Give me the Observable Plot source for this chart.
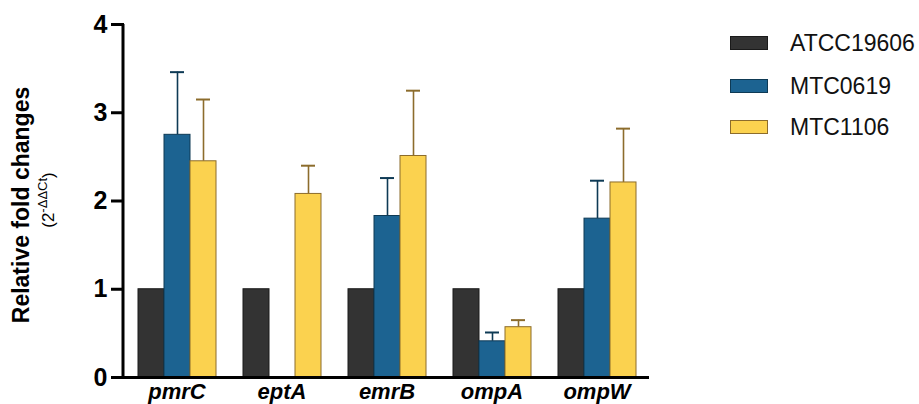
<!DOCTYPE html>
<html><head><meta charset="utf-8">
<script src="https://cdn.jsdelivr.net/npm/d3@7"></script>
<script src="https://cdn.jsdelivr.net/npm/@observablehq/plot@0.6"></script>
<style>
body{margin:0;background:#fff;font-family:"Liberation Sans",Arial,sans-serif;}
#wrap{position:relative;width:919px;height:404px;overflow:hidden}
.leg{position:absolute;left:730px;display:flex;align-items:center;font-size:23px;color:#111}
.leg span.box{display:inline-block;width:38px;height:14px;margin-right:22px;box-sizing:border-box;border:1px solid}
</style></head><body><div id="wrap"></div>
<script>
const genes = ["pmrC","eptA","emrB","ompA","ompW"];
const strains = ["ATCC19606","MTC0619","MTC1106"];
const atcc19606 = [1, 1, 1, 1, 1];
const mtc0619 = [2.75, null, 1.83, 0.41, 1.80];
const mtc0619Upper = [3.46, null, 2.26, 0.51, 2.23];
const mtc1106 = [2.45, 2.08, 2.51, 0.57, 2.21];
const mtc1106Upper = [3.15, 2.40, 3.25, 0.65, 2.82];
const yTicks = [0, 1, 2, 3, 4];

const fills = ["#333333", "#1c6391", "#fbd24f"];
const strokes = ["#1a1a1a", "#0e3a55", "#8c6c2c"];

const series = [
  {strain: strains[0], values: atcc19606, upper: null},
  {strain: strains[1], values: mtc0619, upper: mtc0619Upper},
  {strain: strains[2], values: mtc1106, upper: mtc1106Upper}
];

const marginLeft = 123;
const marks = [];
series.forEach((s, i) => {
  const rows = genes.map((g, j) => ({gene: g, strain: s.strain, value: s.values[j], hi: s.upper ? s.upper[j] : null}))
    .filter(d => d.value != null);
  const errs = rows.filter(d => d.hi != null);
  marks.push(Plot.ruleX(errs, {fx: "gene", x: "strain", y1: "value", y2: "hi", stroke: strokes[i], strokeWidth: 1.6}));
  marks.push(Plot.tickY(errs, {fx: "gene", x: "strain", y: "hi", stroke: strokes[i], strokeWidth: 2, insetLeft: 6, insetRight: 6}));
  marks.push(Plot.barY(rows, {fx: "gene", x: "strain", y: "value", fill: fills[i], stroke: strokes[i], strokeWidth: 1}));
});

const plot = Plot.plot({
  width: 919, height: 404,
  marginLeft, marginRight: 269, marginTop: 24, marginBottom: 27,
  style: {fontFamily: "'Liberation Sans', Arial, sans-serif", color: "#000", background: "transparent"},
  fx: {domain: genes, padding: 0, label: null},
  x: {domain: strains, paddingInner: 0, paddingOuter: 0.5, axis: null},
  y: {domain: [0, 4], label: null},
  marks: [
    ...marks,
    Plot.axisY({ticks: yTicks, tickSize: 13, tickPadding: 4, tickFormat: d => String(d), fontSize: 25, fontWeight: "bold", strokeWidth: 3, label: null}),
    Plot.axisFx({anchor: "bottom", tickSize: 0, tickPadding: 6, fontSize: 22, fontWeight: "bold", fontStyle: "italic", label: null}),
    Plot.ruleY([0], {strokeWidth: 3, stroke: "#000"})
  ]
});

const wrap = document.getElementById("wrap");
wrap.appendChild(plot);
const svg = d3.select(plot);
const y = plot.scale("y");
svg.append("line")
  .attr("x1", marginLeft).attr("x2", marginLeft)
  .attr("y1", y.apply(0) + 1.5).attr("y2", y.apply(4))
  .attr("stroke", "#000").attr("stroke-width", 3);

// y-axis titles
svg.append("text")
  .attr("transform", "translate(29,205) rotate(-90)")
  .attr("text-anchor", "middle")
  .attr("font-size", 23).attr("font-weight", "bold").attr("fill", "#000")
  .text("Relative fold changes");
const sub = svg.append("text")
  .attr("transform", "translate(54,200) rotate(-90)")
  .attr("text-anchor", "middle")
  .attr("font-size", 17).attr("fill", "#000");
sub.append("tspan").text("(2");
sub.append("tspan").attr("font-size", 13).attr("dy", -7).text("-ΔΔCt");
sub.append("tspan").attr("dy", 7).text(")");

// legend
const legTops = [36, 79, 120];
strains.forEach((s, i) => {
  const row = document.createElement("div");
  row.className = "leg";
  row.style.top = (legTops[i] - 6) + "px";
  row.style.height = "26px";
  const box = document.createElement("span");
  box.className = "box";
  box.style.background = fills[i];
  box.style.borderColor = strokes[i];
  row.appendChild(box);
  const t = document.createElement("span");
  t.textContent = s;
  row.appendChild(t);
  wrap.appendChild(row);
});
</script>
</body></html>
